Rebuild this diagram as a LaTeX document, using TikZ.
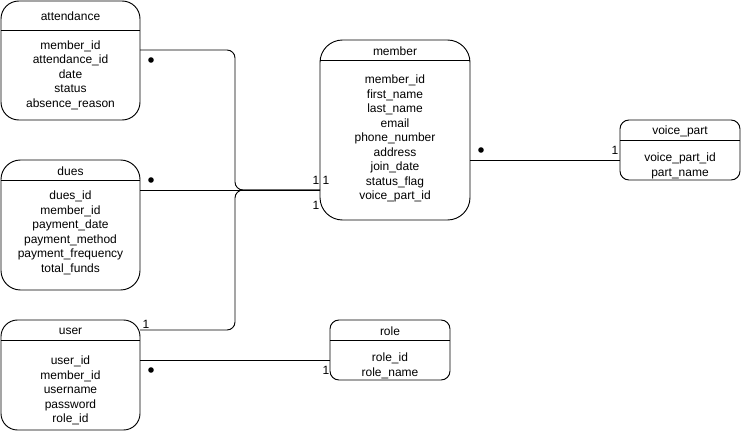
\documentclass[tikz,border=0pt]{standalone}
\usepackage{fontspec}
\setmainfont{Liberation Sans}
\usetikzlibrary{calc}

\tikzset{
  erframe/.style={draw, line width=0.7pt, inner sep=0pt, outer sep=0pt},
  ertext/.style={inner sep=0pt, align=center, font=\fontsize{9}{10.9}\selectfont},
  link/.style={draw, line width=0.7pt, rounded corners=6pt},
  manydot/.style={circle, fill, inner sep=0pt, outer sep=0pt, minimum size=4.2pt},
  card/.style={inner sep=0pt, font=\fontsize{9}{10.9}\selectfont},
}

% entity: name, x1, y1, x2, y2, header line y, title, fields, fields centre y
\newcommand{\erentity}[9]{%
  \pgfmathsetmacro\erw{#4-#2}\pgfmathsetmacro\erh{#5-#3}%
  \pgfmathsetmacro\errad{0.15*min(\erw,\erh)*0.75}%
  \pgfmathsetmacro\erwpt{\erw*0.75}\pgfmathsetmacro\erhpt{\erh*0.75}%
  \node[erframe, rounded corners=\errad pt, minimum width=\erwpt pt, minimum height=\erhpt pt] (#1) at ({(#2+#4)/2},{(#3+#5)/2}) {};
  \draw[line width=0.7pt] (#1.west |- 0,#6) -- (#1.east |- 0,#6);
  \node[ertext] (#1-title) at ({(#2+#4)/2},{(#3+#6)/2+1}) {#7};
  \node[ertext] (#1-fields) at ({(#2+#4)/2},{#9+1.5}) {#8};
}

\begin{document}
\begin{tikzpicture}[x=0.75pt, y=-0.75pt]
  \useasboundingbox (0,0) rectangle (742,431);

  % tables
  \erentity{attendance}{1}{1}{140}{120}{30}{attendance}
    {member\_id\\attendance\_id\\date\\status\\absence\_reason}{73.5}
  \erentity{dues}{1}{160}{140}{290}{180}{dues}
    {dues\_id\\member\_id\\payment\_date\\payment\_method\\payment\_frequency\\total\_funds}{231.5}
  \erentity{user}{1}{320}{140}{430}{340}{user}
    {user\_id\\member\_id\\username\\password\\role\_id}{389}
  \erentity{member}{320}{40}{470}{220}{60}{member}
    {member\_id\\first\_name\\last\_name\\email\\phone\_number\\address\\join\_date\\status\_flag\\voice\_part\_id}{137}
  \erentity{voice_part}{620}{120}{740}{180}{140}{voice\_part}
    {voice\_part\_id\\part\_name}{164.5}
  \erentity{role}{330}{320}{450}{380}{340}{role}
    {role\_id\\role\_name}{364.5}

  % shared entry point on member and the vertical bus feeding it
  \coordinate (mjoin) at ($(member.north west)+(0,150)$);
  \coordinate (bus) at ($(mjoin)+(-85,0)$);

  % relationships
  \draw[link] ($(attendance.north east)+(0,49)$) -| (bus) -- (mjoin);
  \draw[link] ($(user.north east)+(0,10)$) -| (bus) -- (mjoin);
  \draw[link] ($(dues.north east)+(0,30)$) -- (mjoin);
  \draw[link] ($(user.north east)+(0,40)$) -- ($(role.north west)+(0,40)$);
  \draw[link] ($(member.north east)+(0,120)$) -- ($(voice_part.north west)+(0,40)$);

  % many-side markers
  \node[manydot] (m-att) at (151,60) {};
  \node[manydot] (m-dues) at (151,180) {};
  \node[manydot] (m-user) at (151,370) {};
  \node[manydot] (m-mem) at (481,150) {};

  % one-side markers
  \node[card] (c-mem-a) at (316,180) {1};
  \node[card] (c-mem-b) at (326,180) {1};
  \node[card] (c-mem-c) at (316,205) {1};
  \node[card] (c-user) at (146,324) {1};
  \node[card] (c-role) at (326,370) {1};
  \node[card] (c-voice) at (615,150) {1};
\end{tikzpicture}
\end{document}
